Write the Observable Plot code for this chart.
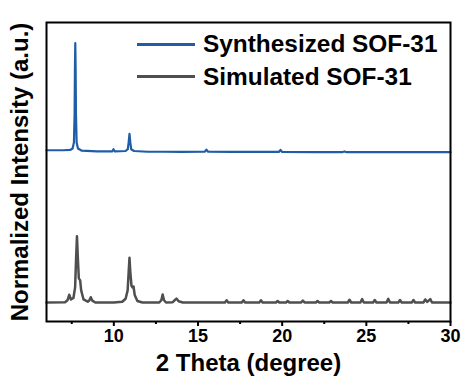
<!DOCTYPE html>
<html>
<head>
<meta charset="utf-8">
<script src="https://cdn.jsdelivr.net/npm/d3@7"></script>
<script src="https://cdn.jsdelivr.net/npm/@observablehq/plot@0.6"></script>
<style>
  html, body { margin: 0; padding: 0; background: #fff; }
  #wrap { position: relative; width: 462px; height: 376px; font-family: "Liberation Sans", Arial, sans-serif; }
  #legend { position: absolute; left: 137px; top: 28px; font-weight: bold; font-size: 24.4px; color: #000; }
  .row { display: flex; align-items: center; height: 32.5px; }
  .sw { width: 58px; height: 3px; margin-right: 8px; }
</style>
</head>
<body>
<div id="wrap"></div>
<script>
// Series names and colours
const seriesNames = ["Synthesized SOF-31", "Simulated SOF-31"];
const seriesColors = ["#1f5da6", "#4f4f4f"];

// Synthesized (measured) pattern, offset by 1 (2θ, intensity)
const synthesized = [
  [6.0, 1.008], [7.0, 1.008], [7.4, 1.01], [7.55, 1.02], [7.63, 1.06], [7.67, 1.25], [7.69, 1.55],
  [7.71, 1.717], [7.73, 1.55], [7.75, 1.25], [7.79, 1.06], [7.87, 1.02], [8.1, 1.005], [9.0, 1.0],
  [9.9, 1.0], [9.98, 1.015], [10.06, 1.0], [10.7, 1.003], [10.83, 1.015], [10.88, 1.06],
  [10.93, 1.117], [10.98, 1.06], [11.03, 1.015], [11.2, 1.003], [12.0, 0.998], [13.0, 0.998],
  [14.0, 0.997], [15.4, 0.998], [15.5, 1.012], [15.6, 0.998], [17.0, 0.997], [19.8, 0.997],
  [19.9, 1.01], [20.0, 0.997], [22.0, 0.996], [23.6, 0.996], [23.7, 1.0], [23.8, 0.996],
  [25.0, 0.996], [28.0, 0.995], [30.0, 0.995]
];

// Simulated pattern (2θ, intensity)
const simulated = [
  [6.0, 0.0], [7.1, 0.002], [7.25, 0.015], [7.35, 0.051], [7.45, 0.02], [7.6, 0.03], [7.7, 0.1],
  [7.76, 0.3], [7.81, 0.439], [7.86, 0.3], [7.92, 0.16], [8.0, 0.146], [8.06, 0.08], [8.2, 0.02],
  [8.45, 0.005], [8.55, 0.015], [8.63, 0.035], [8.72, 0.012], [8.9, 0.0], [10.0, 0.0], [10.5, 0.005],
  [10.7, 0.025], [10.82, 0.08], [10.88, 0.2], [10.93, 0.296], [10.98, 0.2], [11.05, 0.11],
  [11.12, 0.1], [11.17, 0.106], [11.24, 0.05], [11.4, 0.01], [11.7, 0.0], [12.7, 0.0],
  [12.82, 0.015], [12.9, 0.053], [12.98, 0.015], [13.1, 0.0], [13.5, 0.002], [13.62, 0.015],
  [13.72, 0.026], [13.85, 0.008], [14.1, 0.0], [16.6, 0.0], [16.7, 0.015], [16.8, 0.0],
  [17.6, 0.0], [17.7, 0.015], [17.8, 0.0], [18.64, 0.0], [18.74, 0.015], [18.84, 0.0],
  [19.63, 0.0], [19.73, 0.01], [19.83, 0.0], [20.23, 0.0], [20.33, 0.01], [20.43, 0.0],
  [21.13, 0.0], [21.23, 0.012], [21.33, 0.0], [22.0, 0.0], [22.1, 0.01], [22.2, 0.0],
  [22.8, 0.0], [22.9, 0.01], [23.0, 0.0], [23.9, 0.0], [24.0, 0.018], [24.1, 0.0],
  [24.65, 0.0], [24.75, 0.022], [24.85, 0.0], [25.4, 0.0], [25.5, 0.016], [25.6, 0.0],
  [26.2, 0.0], [26.3, 0.024], [26.4, 0.0], [26.9, 0.0], [27.0, 0.016], [27.1, 0.0],
  [27.7, 0.0], [27.8, 0.016], [27.9, 0.0], [28.4, 0.0], [28.5, 0.02], [28.62, 0.004],
  [28.8, 0.022], [28.9, 0.0], [30.0, 0.0]
];

const majorTicks = [10, 15, 20, 25, 30];
const minorTicks = [7.5, 12.5, 17.5, 22.5, 27.5];
const xLabel = "2 Theta (degree)";
const yLabel = "Normalized Intensity (a.u.)";

const font = "Liberation Sans, Arial, sans-serif";

const chart = Plot.plot({
  width: 462,
  height: 376,
  marginLeft: 46,
  marginRight: 12,
  marginTop: 22,
  marginBottom: 55,
  style: { fontFamily: font, background: "#fff", overflow: "visible" },
  x: { domain: [6, 30] },
  y: { domain: [-0.126, 1.854] },
  marks: [
    Plot.line(simulated, { x: d => d[0], y: d => d[1], stroke: seriesColors[1], strokeWidth: 2.5, strokeLinejoin: "round" }),
    Plot.line(synthesized, { x: d => d[0], y: d => d[1], stroke: seriesColors[0], strokeWidth: 2.2, strokeLinejoin: "round" }),
    Plot.frame({ stroke: "#000", strokeWidth: 2 }),
    Plot.axisX({ ticks: majorTicks, tickSize: 5, tickPadding: 3, strokeWidth: 2, stroke: "#000", fontSize: 18, fontWeight: "bold", fill: "#000", label: null, tickFormat: d => String(d) }),
    Plot.axisX({ ticks: minorTicks, tickSize: 3, strokeWidth: 2, stroke: "#000", text: null, label: null }),
    Plot.axisY({ ticks: [], label: null }),
    Plot.text([xLabel], { text: d => d, frameAnchor: "bottom", dy: 42, fontSize: 24, fontWeight: "bold", fill: "#000", lineAnchor: "middle", textAnchor: "middle" }),
    Plot.text([yLabel], { text: d => d, frameAnchor: "left", dx: -26, rotate: -90, fontSize: 24, fontWeight: "bold", fill: "#000", lineAnchor: "middle", textAnchor: "middle" })
  ]
});

const wrap = document.getElementById("wrap");
wrap.appendChild(chart);

const legend = document.createElement("div");
legend.id = "legend";
seriesNames.forEach((name, i) => {
  const row = document.createElement("div");
  row.className = "row";
  const sw = document.createElement("span");
  sw.className = "sw";
  sw.style.background = seriesColors[i];
  const label = document.createElement("span");
  label.textContent = name;
  row.appendChild(sw);
  row.appendChild(label);
  legend.appendChild(row);
});
wrap.appendChild(legend);
</script>
</body>
</html>
